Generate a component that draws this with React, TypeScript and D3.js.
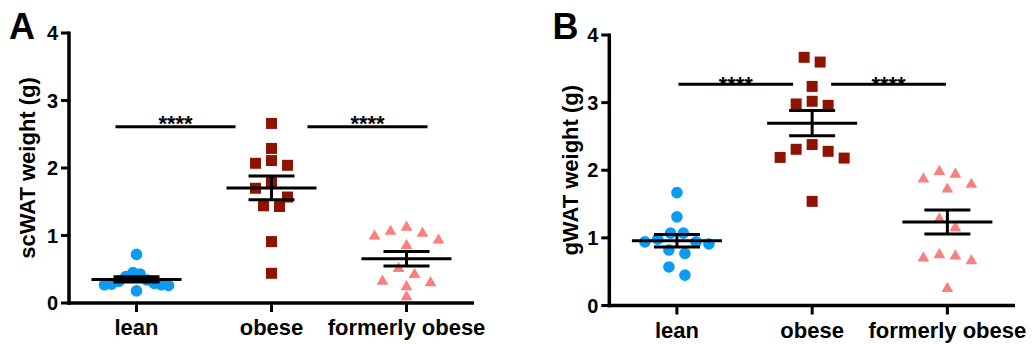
import React from "react";
import * as d3 from "d3";

// ---------- data ----------
const CATEGORIES = ["lean", "obese", "formerly obese"];
const Y_TICKS = [0, 1, 2, 3, 4];

// Panel A: scWAT weight (g)
const SC_LEAN = [0.72, 0.45, 0.43, 0.39, 0.34, 0.32, 0.29, 0.28, 0.27, 0.27, 0.26, 0.18];
const SC_OBESE = [2.66, 2.29, 2.11, 2.07, 2.04, 1.79, 1.70, 1.57, 1.44, 1.43, 0.91, 0.44];
const SC_FORMER = [1.12, 1.06, 1.03, 0.99, 0.93, 0.85, 0.51, 0.42, 0.32, 0.30, 0.24, 0.09];
const SC_SIG_Y = 2.61;

// Panel B: gWAT weight (g)
const G_LEAN = [1.67, 1.31, 1.07, 1.07, 0.98, 0.94, 0.94, 0.91, 0.82, 0.77, 0.57, 0.45];
const G_OBESE = [3.67, 3.60, 3.24, 3.02, 2.98, 2.96, 2.38, 2.31, 2.28, 2.19, 2.18, 1.54];
const G_FORMER = [1.98, 1.94, 1.87, 1.79, 1.72, 1.28, 1.15, 0.75, 0.73, 0.70, 0.66, 0.25];
const G_SIG_Y = 3.27;

const SIG_LABEL = "****";

// ---------- styles ----------
const FONT = '"Liberation Sans", Arial, Helvetica, sans-serif';
const COLORS = ["#0A9BF5", "#8F1300", "#FA8080"];
const SYMBOLS = [d3.symbolCircle, d3.symbolSquare, d3.symbolTriangle];
const SYMBOL_SIZES = [106, 121, 60];

type Cfg = {
  letter: string;
  title: string;
  x0: number;
  x1: number;
  yTop: number;
  yBot: number;
  titleX: number;
  letterX: number;
  sigOuter: number;
  sigInner: number;
  starDy: number;
};

const PANEL_A: Cfg = {
  letter: "A",
  title: "scWAT weight (g)",
  x0: 69,
  x1: 474,
  yTop: 33,
  yBot: 303,
  titleX: 27,
  letterX: 9,
  sigOuter: 21,
  sigInner: 36,
  starDy: 4.5,
};
const PANEL_B: Cfg = {
  letter: "B",
  title: "gWAT weight (g)",
  x0: 609.3,
  x1: 1015,
  yTop: 35,
  yBot: 305.5,
  titleX: 570,
  letterX: 552.5,
  sigOuter: -1.5,
  sigInner: 19,
  starDy: 7.5,
};

// Prism-like scatter layout: rows of near-equal values spread horizontally
function layout(values: number[], y: (v: number) => number) {
  const idx = values.map((_, i) => i).sort((a, b) => values[b] - values[a]);
  const rows: number[][] = [];
  let cur: number[] = [];
  let prevY = -1e9;
  let startY = -1e9;
  for (const i of idx) {
    const py = y(values[i]);
    if (cur.length && py - prevY < 9 && py - startY <= 15) {
      cur.push(i);
    } else {
      if (cur.length) rows.push(cur);
      cur = [i];
      startY = py;
    }
    prevY = py;
  }
  if (cur.length) rows.push(cur);
  const offs = new Array(values.length).fill(0);
  for (const row of rows) {
    const n = row.length;
    const step = n > 1 ? Math.min(16, 64 / (n - 1)) : 0;
    const o = d3.range(n).map((k) => (k - (n - 1) / 2) * step);
    o.sort((a, b) => Math.abs(a) - Math.abs(b) || a - b);
    row.forEach((i, k) => (offs[i] = o[k]));
  }
  return offs;
}

function Panel({ cfg, groups, sigY }: { cfg: Cfg; groups: number[][]; sigY: number }) {
  const x = d3.scalePoint<string>().domain(CATEGORIES).range([cfg.x0, cfg.x1]).padding(0.5);
  const y = d3.scaleLinear().domain([0, 4]).range([cfg.yBot, cfg.yTop]);
  const sy = y(sigY);
  const xs = CATEGORIES.map((c) => x(c) as number);
  const sigLines = [
    [xs[0] - cfg.sigOuter, xs[1] - cfg.sigInner],
    [xs[1] + cfg.sigInner, xs[2] + cfg.sigOuter],
  ];
  return (
    <g>
      <text x={cfg.letterX} y={39} fontSize={36} fontWeight="bold" fontFamily={FONT}>
        {cfg.letter}
      </text>
      <text
        transform={`translate(${cfg.titleX},${(cfg.yTop + cfg.yBot) / 2}) rotate(-90)`}
        textAnchor="middle"
        dominantBaseline="central"
        fontSize={22}
        fontWeight="bold"
        fontFamily={FONT}
      >
        {cfg.title}
      </text>
      {/* points */}
      {groups.map((vals, gi) => {
        const offs = layout(vals, y);
        const path = d3.symbol().type(SYMBOLS[gi]).size(SYMBOL_SIZES[gi])() as string;
        return vals.map((v, i) => (
          <path
            key={`${gi}-${i}`}
            d={path}
            transform={`translate(${xs[gi] + offs[i]},${y(v)})`}
            fill={COLORS[gi]}
          />
        ));
      })}
      {/* mean & SEM */}
      {groups.map((vals, gi) => {
        const m = d3.mean(vals) as number;
        const sem = (d3.deviation(vals) as number) / Math.sqrt(vals.length);
        const cx = xs[gi];
        return (
          <g key={`e${gi}`} stroke="#000" strokeWidth={3}>
            <line x1={cx - 45} x2={cx + 45} y1={y(m)} y2={y(m)} />
            <line x1={cx - 23} x2={cx + 23} y1={y(m + sem)} y2={y(m + sem)} />
            <line x1={cx - 23} x2={cx + 23} y1={y(m - sem)} y2={y(m - sem)} />
            <line x1={cx} x2={cx} y1={y(m + sem)} y2={y(m - sem)} />
          </g>
        );
      })}
      {/* significance */}
      {sigLines.map(([a, b], i) => (
        <g key={`s${i}`}>
          <line x1={a} x2={b} y1={sy} y2={sy} stroke="#000" strokeWidth={3} />
          <text
            x={(a + b) / 2}
            y={sy + cfg.starDy}
            textAnchor="middle"
            fontSize={22}
            fontWeight="bold"
            fontFamily={FONT}
          >
            {SIG_LABEL}
          </text>
        </g>
      ))}
      {/* axes */}
      <line x1={cfg.x0} x2={cfg.x0} y1={cfg.yTop - 1.5} y2={cfg.yBot + 1.75} stroke="#000" strokeWidth={3.5} />
      <line x1={cfg.x0 - 1.75} x2={cfg.x1} y1={cfg.yBot} y2={cfg.yBot} stroke="#000" strokeWidth={3.5} />
      {Y_TICKS.map((t) => (
        <g key={`yt${t}`}>
          <line x1={cfg.x0 - 8} x2={cfg.x0} y1={y(t)} y2={y(t)} stroke="#000" strokeWidth={3} />
          <text
            x={cfg.x0 - 11}
            y={y(t)}
            textAnchor="end"
            dominantBaseline="central"
            fontSize={20}
            fontWeight="bold"
            fontFamily={FONT}
          >
            {t}
          </text>
        </g>
      ))}
      {CATEGORIES.map((c, i) => (
        <g key={`xt${c}`}>
          <line x1={xs[i]} x2={xs[i]} y1={cfg.yBot} y2={cfg.yBot + 9} stroke="#000" strokeWidth={3} />
          <text
            x={xs[i]}
            y={cfg.yBot + 32}
            textAnchor="middle"
            fontSize={22}
            fontWeight="bold"
            fontFamily={FONT}
          >
            {c}
          </text>
        </g>
      ))}
    </g>
  );
}

export default function App() {
  return (
    <svg
      width={1032}
      height={344}
      viewBox="0 0 1032 344"
      style={{ position: "absolute", left: 0, top: 0, background: "#fff" }}
    >
      <rect width={1032} height={344} fill="#fff" />
      <Panel cfg={PANEL_A} groups={[SC_LEAN, SC_OBESE, SC_FORMER]} sigY={SC_SIG_Y} />
      <Panel cfg={PANEL_B} groups={[G_LEAN, G_OBESE, G_FORMER]} sigY={G_SIG_Y} />
    </svg>
  );
}
